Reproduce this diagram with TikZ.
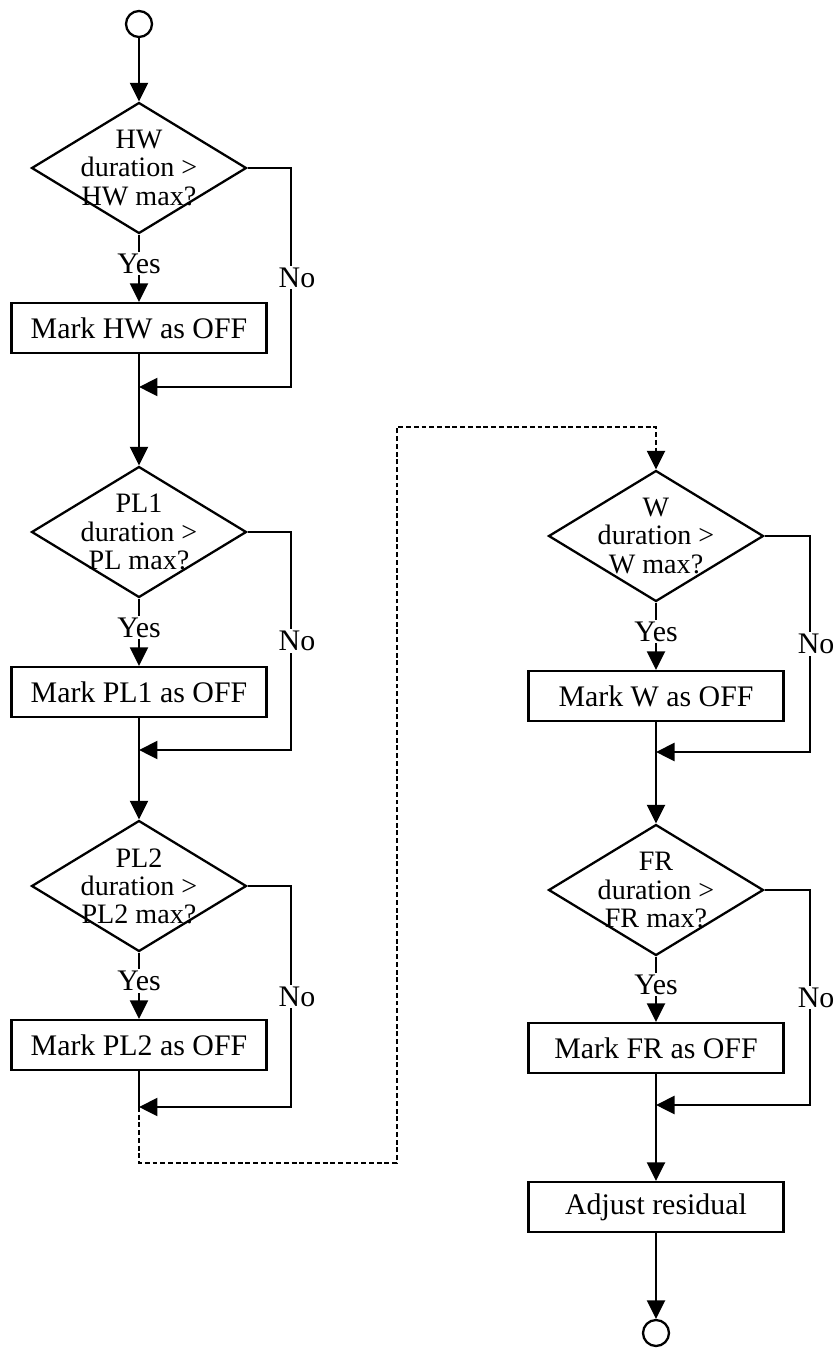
\documentclass[tikz,border=0pt]{standalone}
\usepackage{fontspec}
\setmainfont{Liberation Serif}
\usetikzlibrary{shapes.geometric,arrows.meta}
\begin{document}
\begin{tikzpicture}[x=0.02cm, y=-0.02cm,
  every node/.style={font=\fontsize{17}{17}\selectfont},
  line/.style={line width=1.3pt},
  arr/.style={line, -{Triangle[length=0.37cm,width=0.36cm]}},
  test/.style={draw, line width=1.3pt, diamond, aspect=1.65, minimum width=4.3cm, minimum height=2.62cm, inner sep=-8pt, align=center, font=\fontsize{16}{16}\selectfont},
  action/.style={draw, line width=1.3pt, minimum width=5.1cm, minimum height=1cm, inner sep=0pt},
  term/.style={draw, line width=1.3pt, circle, minimum size=0.52cm, inner sep=0pt},
  yes/.style={fill=white, inner sep=1pt, pos=0.43},
  no/.style={fill=white, inner sep=1pt, pos=0.75, xshift=0.12cm}]
\useasboundingbox (0,0) rectangle (834,1349);
% colonne gauche
\node [term] (start) at (139,24) {};
\node [test] (hw) at (139,168) {HW\\duration >\\HW max?};
\node [action] (hwoff) at (139,328) {Mark HW as OFF};
\coordinate (hwj) at (139,387);
\coordinate (hwr) at (291,387);
\node [test] (pl1) at (139,532) {PL1\\duration >\\PL max?};
\node [action] (pl1off) at (139,692) {Mark PL1 as OFF};
\coordinate (pl1j) at (139,750);
\coordinate (pl1r) at (291,750);
\node [test] (pl2) at (139,886) {PL2\\duration >\\PL2 max?};
\node [action] (pl2off) at (139,1045) {Mark PL2 as OFF};
\coordinate (pl2j) at (139,1107);
\coordinate (pl2r) at (291,1107);
% liaison pointillee
\coordinate (dl1) at (139,1163);
\coordinate (dl2) at (397,1163);
\coordinate (dl3) at (397,427);
\coordinate (dl4) at (656,427);
% colonne droite
\node [test] (w) at (656,536) {W\\duration >\\W max?};
\node [action] (woff) at (656,696) {Mark W as OFF};
\coordinate (wj) at (656,752);
\coordinate (wr) at (810,752);
\node [test] (fr) at (656,890) {FR\\duration >\\FR max?};
\node [action] (froff) at (656,1048) {Mark FR as OFF};
\coordinate (frj) at (656,1105);
\coordinate (frr) at (810,1105);
\node [action] (adjust) at (656,1207) {Adjust residual};
\node [term] (stop) at (656,1333) {};
% fleches
\draw [arr] (start) -- (hw);
\draw [arr] (hw) -- node [yes] {Yes} (hwoff);
\draw [arr] (hw.east) -| node [no] {No} (hwr) -- (hwj);
\draw [arr] (hwoff) -- (pl1);
\draw [arr] (pl1) -- node [yes] {Yes} (pl1off);
\draw [arr] (pl1.east) -| node [no] {No} (pl1r) -- (pl1j);
\draw [arr] (pl1off) -- (pl2);
\draw [arr] (pl2) -- node [yes] {Yes} (pl2off);
\draw [arr] (pl2.east) -| node [no] {No} (pl2r) -- (pl2j);
\draw [line] (pl2off) -- (pl2j);
\draw [arr, dash pattern=on 2.8pt off 1.6pt] (pl2j) -- (dl1) -- (dl2) -- (dl3) -- (dl4) -- (w);
\draw [arr] (w) -- node [yes] {Yes} (woff);
\draw [arr] (w.east) -| node [no] {No} (wr) -- (wj);
\draw [arr] (woff) -- (fr);
\draw [arr] (fr) -- node [yes] {Yes} (froff);
\draw [arr] (fr.east) -| node [no] {No} (frr) -- (frj);
\draw [arr] (froff) -- (adjust);
\draw [arr] (adjust) -- (stop);
\end{tikzpicture}
\end{document}
